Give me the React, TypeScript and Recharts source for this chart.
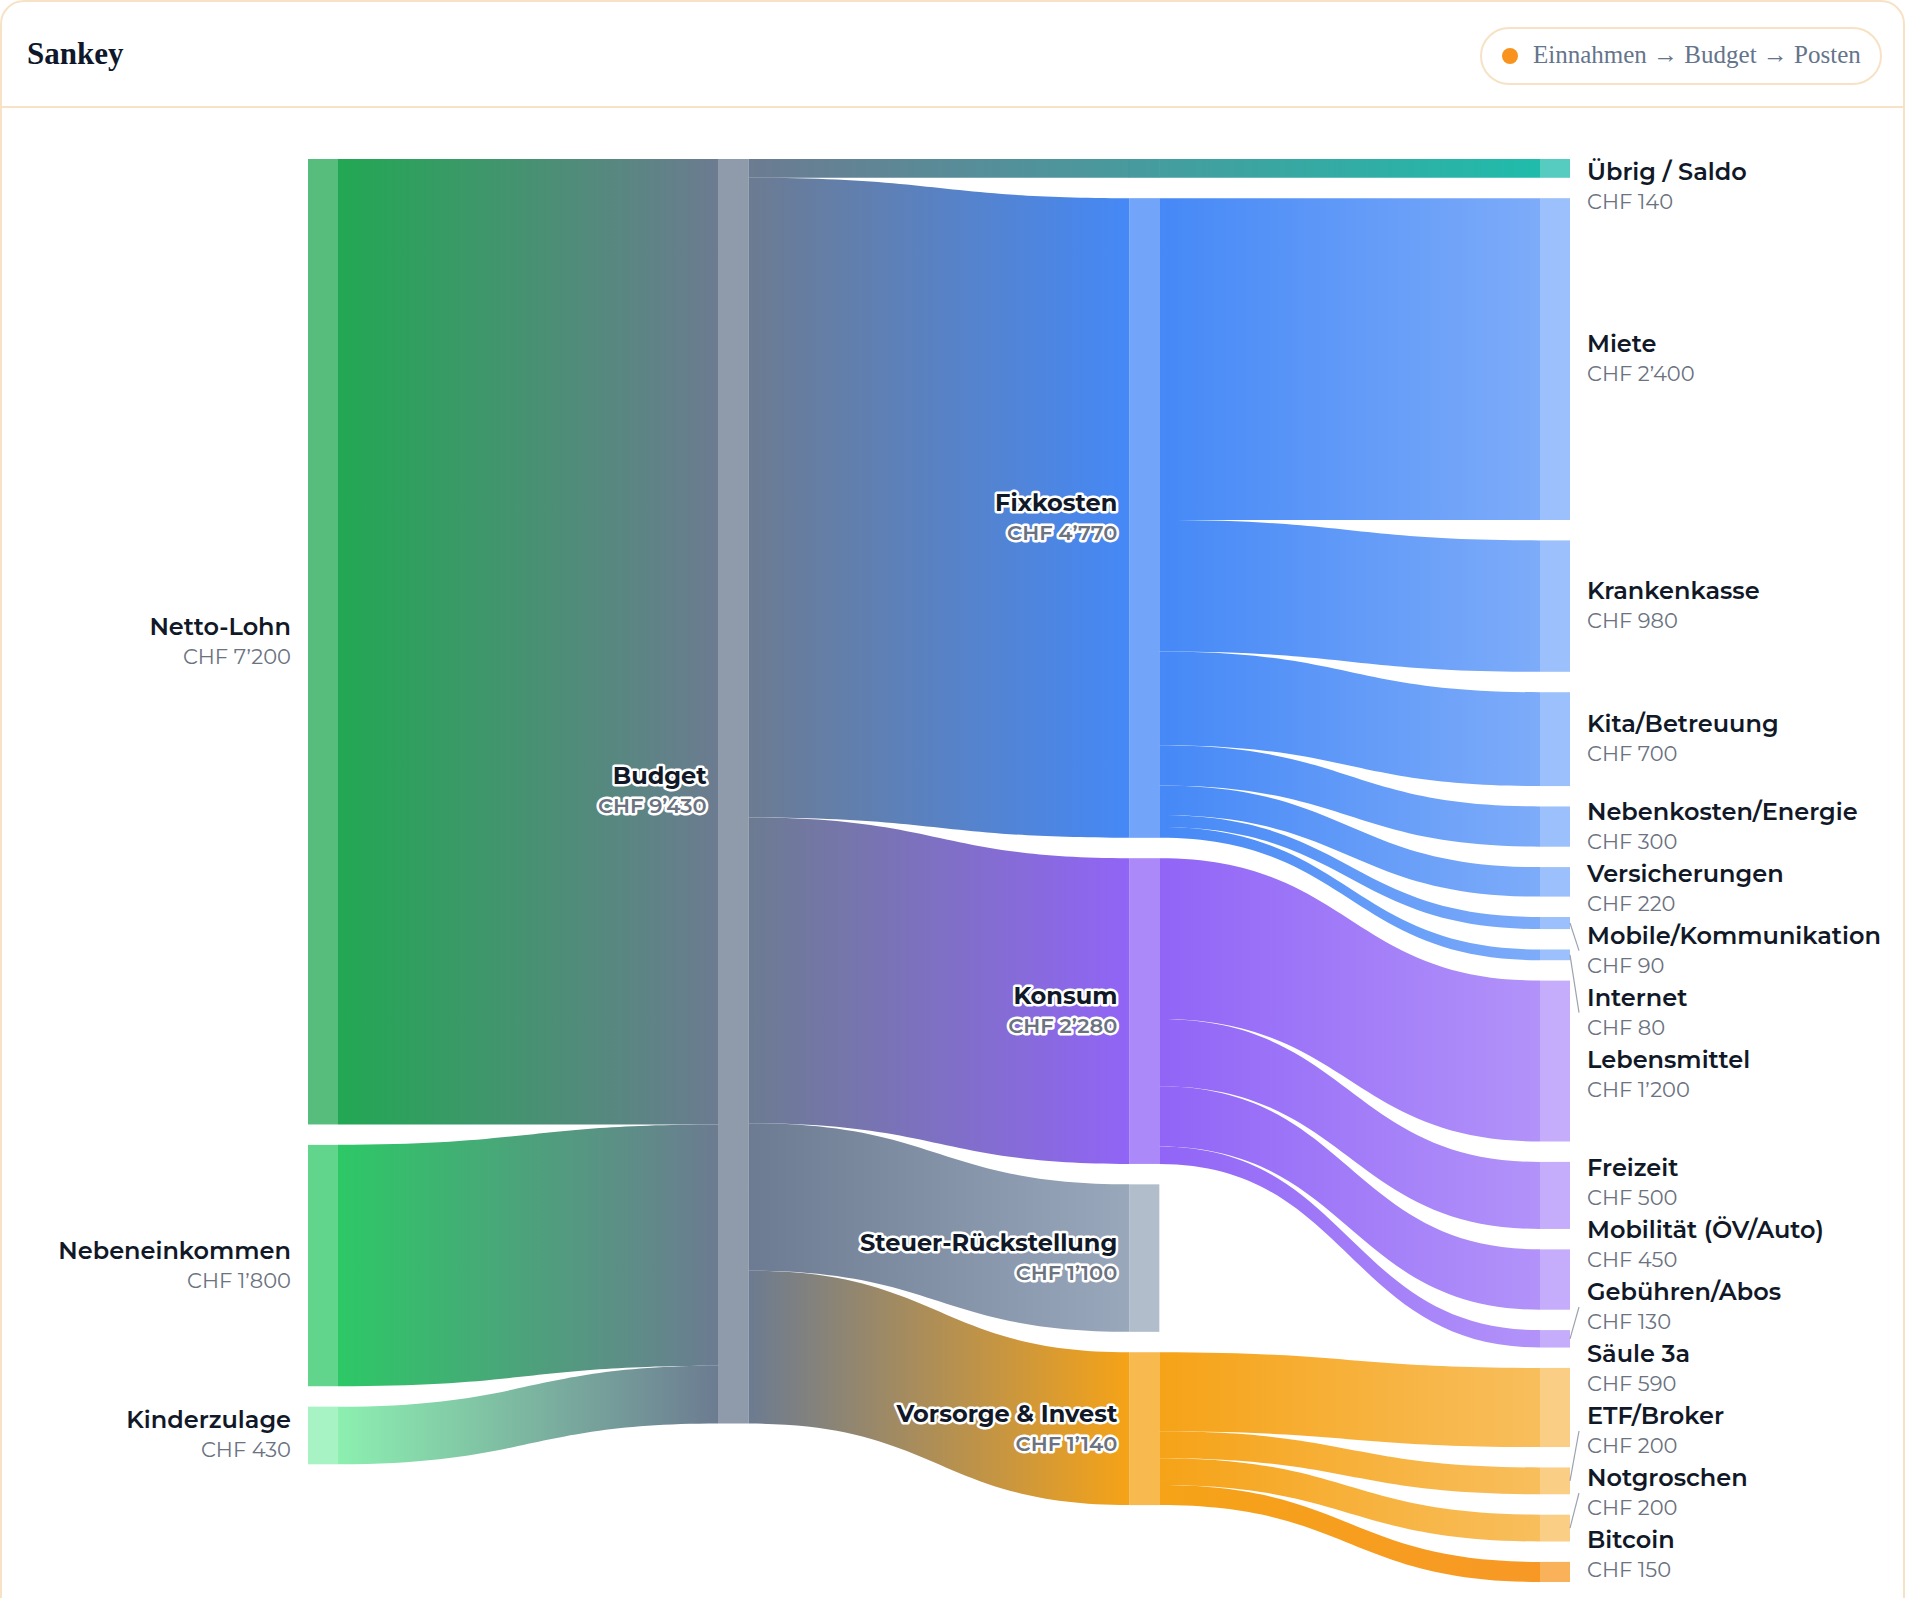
import React from 'react';
import { Sankey } from 'recharts';

// ---- data (CHF per month) ----
const incomeNames = ['Netto-Lohn', 'Nebeneinkommen', 'Kinderzulage'];
const incomeValues = [7200, 1800, 430];

const budgetName = 'Budget';

const saldoName = 'Übrig / Saldo';
const saldoValue = 140;

const fixkostenItems = ['Miete', 'Krankenkasse', 'Kita/Betreuung', 'Nebenkosten/Energie', 'Versicherungen', 'Mobile/Kommunikation', 'Internet'];
const fixkostenValues = [2400, 980, 700, 300, 220, 90, 80];

const konsumItems = ['Lebensmittel', 'Freizeit', 'Mobilität (ÖV/Auto)', 'Gebühren/Abos'];
const konsumValues = [1200, 500, 450, 130];

const steuerName = 'Steuer-Rückstellung';
const steuerValue = 1100;

const vorsorgeItems = ['Säule 3a', 'ETF/Broker', 'Notgroschen', 'Bitcoin'];
const vorsorgeValues = [590, 200, 200, 150];

const groupNames = ['Fixkosten', 'Konsum', steuerName, 'Vorsorge & Invest'];

const sum = (a: number[]) => a.reduce((s, v) => s + v, 0);
const groupValues = [sum(fixkostenValues), sum(konsumValues), steuerValue, sum(vorsorgeValues)];

// pass-through node that keeps the saldo band in the middle column,
// and a near-zero link that keeps the tax node in its own column
const GHOST = 'saldo-pass';
const ANCHOR_VALUE = 0.001;

const nodeNames = [
  ...incomeNames,
  budgetName,
  GHOST,
  ...groupNames,
  saldoName,
  ...fixkostenItems,
  ...konsumItems,
  ...vorsorgeItems,
];
const idx = (n: string) => nodeNames.indexOf(n);

const links = [
  ...incomeNames.map((n, i) => ({ source: idx(n), target: idx(budgetName), value: incomeValues[i] })),
  { source: idx(budgetName), target: idx(GHOST), value: saldoValue },
  ...groupNames.map((g, i) => ({ source: idx(budgetName), target: idx(g), value: groupValues[i] })),
  { source: idx(GHOST), target: idx(saldoName), value: saldoValue },
  ...fixkostenItems.map((n, i) => ({ source: idx('Fixkosten'), target: idx(n), value: fixkostenValues[i] })),
  ...konsumItems.map((n, i) => ({ source: idx('Konsum'), target: idx(n), value: konsumValues[i] })),
  ...vorsorgeItems.map((n, i) => ({ source: idx('Vorsorge & Invest'), target: idx(n), value: vorsorgeValues[i] })),
  { source: idx(steuerName), target: idx('Mobilität (ÖV/Auto)'), value: ANCHOR_VALUE },
];

const sankeyData = { nodes: nodeNames.map((name) => ({ name })), links };

// ---- styles ----
const baseColors: Record<string, string> = {
  'Netto-Lohn': '#16a34a',
  Nebeneinkommen: '#22c55e',
  Kinderzulage: '#86efac',
  Budget: '#64748b',
  Fixkosten: '#3b82f6',
  Konsum: '#8b5cf6',
  'Steuer-Rückstellung': '#94a3b8',
  'Vorsorge & Invest': '#f59e0b',
  'Übrig / Saldo': '#14b8a6',
  Bitcoin: '#f7931a',
};
const colorOf = (name: string) => {
  if (baseColors[name]) return baseColors[name];
  if (fixkostenItems.includes(name)) return '#76a7f9';
  if (konsumItems.includes(name)) return '#ae8df9';
  if (vorsorgeItems.includes(name)) return '#f8bb54';
  return '#94a3b8';
};

const W = 1908;
const H = 1598;
const MARGIN = { top: 159, right: 338, bottom: 16, left: 308 };
const NODE_W = 30;
const NODE_PAD = 20.4;
const COL_STEP = (W - MARGIN.left - MARGIN.right - NODE_W) / 3;
const NODE_OPACITY = 0.72;
const LINK_OPACITY = 0.95;

const FONT = '"Montserrat", "Open Sans", sans-serif';
const LABEL_GAP = 62;
const LABEL_MIN = MARGIN.top + 28;
const LABEL_MAX = H - MARGIN.bottom - 27;
const LAST = nodeNames.length - 1;

const fmt = (v: number) => 'CHF ' + String(Math.round(v)).replace(/\B(?=(\d{3})+(?!\d))/g, '’');

const rightCol = new Map<number, { name: string; value: number; x: number; y: number; h: number }>();

function renderRightLabels() {
  const items = [...rightCol.values()].sort((a, b) => a.y - b.y);
  const centers = items.map((it) => it.y + it.h / 2);
  const pos = centers.slice();
  for (let i = 0; i < pos.length; i++) {
    pos[i] = Math.max(pos[i], i ? pos[i - 1] + LABEL_GAP : LABEL_MIN);
  }
  for (let i = pos.length - 1; i >= 0; i--) {
    pos[i] = Math.min(pos[i], i === pos.length - 1 ? LABEL_MAX : pos[i + 1] - LABEL_GAP);
  }
  return items.map((it, i) => {
    const tx = it.x + NODE_W + 17;
    const shifted = Math.abs(pos[i] - centers[i]) > 20 && it.h < 40;
    return (
      <g key={'rl' + i}>
        {shifted && (
          <line x1={it.x + NODE_W} y1={centers[i]} x2={it.x + NODE_W + 9} y2={pos[i]} stroke="#9ca3af" strokeWidth={1.2} />
        )}
        <text x={tx} y={pos[i] - 7} fontFamily={FONT} fontSize={24} fontWeight={600} fill="#111827">
          {it.name}
        </text>
        <text x={tx} y={pos[i] + 22} fontFamily={FONT} fontSize={21} fill="#6b7280">
          {fmt(it.value)}
        </text>
      </g>
    );
  });
}

function renderNode(props: any) {
  const { x, y, width, height, index, payload } = props;
  const name: string = payload.name;
  const cy = y + height / 2;

  if (name === GHOST) {
    const gid = 'ghost-grad';
    return (
      <g>
        <defs>
          <linearGradient id={gid} gradientUnits="userSpaceOnUse" x1={x - COL_STEP + NODE_W} x2={x + COL_STEP} y1={0} y2={0}>
            <stop offset="0%" stopColor={colorOf(budgetName)} />
            <stop offset="100%" stopColor={colorOf(saldoName)} />
          </linearGradient>
        </defs>
        <rect x={x - 0.5} y={y} width={width + 1} height={height} fill={`url(#${gid})`} fillOpacity={LINK_OPACITY} />
      </g>
    );
  }

  const parts: React.ReactNode[] = [
    <rect key="r" x={x} y={y} width={width} height={height} fill={colorOf(name)} fillOpacity={NODE_OPACITY} />,
  ];

  if (payload.depth === 0) {
    parts.push(
      <text key="n" x={x - 17} y={cy - 7} textAnchor="end" fontFamily={FONT} fontSize={24} fontWeight={600} fill="#111827">
        {name}
      </text>,
      <text key="v" x={x - 17} y={cy + 22} textAnchor="end" fontFamily={FONT} fontSize={21} fill="#6b7280">
        {fmt(payload.value)}
      </text>,
    );
  } else if (payload.depth === 3) {
    rightCol.set(index, { name, value: payload.value, x, y, h: height });
  } else {
    const halo = { stroke: '#ffffff', strokeWidth: 5, strokeLinejoin: 'round' as const, paintOrder: 'stroke' };
    parts.push(
      <text key="n" x={x - 12} y={cy - 7} textAnchor="end" fontFamily={FONT} fontSize={24} fontWeight={700} fill="#111827" {...halo}>
        {name}
      </text>,
      <text key="v" x={x - 12} y={cy + 22} textAnchor="end" fontFamily={FONT} fontSize={21} fontWeight={600} fill="#6b7280" {...halo}>
        {fmt(payload.value)}
      </text>,
    );
  }

  if (index === LAST) parts.push(<g key="right">{renderRightLabels()}</g>);
  return <g>{parts}</g>;
}

function renderLink(props: any) {
  const { sourceX, targetX, sourceY, targetY, sourceControlX, targetControlX, linkWidth, index, payload } = props;
  if (payload.value < 1) return <g />;
  const sName: string = payload.source.name;
  const tName: string = payload.target.name;
  let gx1 = sourceX;
  let gx2 = targetX;
  let c1 = colorOf(sName);
  let c2 = colorOf(tName);
  if (tName === GHOST) {
    gx2 = targetX + COL_STEP;
    c2 = colorOf(saldoName);
  }
  if (sName === GHOST) {
    gx1 = sourceX - COL_STEP;
    c1 = colorOf(budgetName);
  }
  const h = linkWidth / 2;
  const d =
    `M${sourceX},${sourceY - h} C${sourceControlX},${sourceY - h} ${targetControlX},${targetY - h} ${targetX},${targetY - h} ` +
    `L${targetX},${targetY + h} C${targetControlX},${targetY + h} ${sourceControlX},${sourceY + h} ${sourceX},${sourceY + h} Z`;
  const gid = `lg-${index}`;
  return (
    <g>
      <defs>
        <linearGradient id={gid} gradientUnits="userSpaceOnUse" x1={gx1} x2={gx2} y1={0} y2={0}>
          <stop offset="0%" stopColor={c1} />
          <stop offset="100%" stopColor={c2} />
        </linearGradient>
      </defs>
      <path d={d} fill={`url(#${gid})`} fillOpacity={LINK_OPACITY} stroke="none" />
    </g>
  );
}

const BORDER = '#f8e2c6';

export default function App() {
  return (
    <div style={{ position: 'relative', width: W, height: H, overflow: 'hidden', background: '#ffffff' }}>
      <style>{'body{margin:0}'}</style>
      <div
        style={{
          position: 'absolute',
          left: 0,
          top: 0,
          width: 1905,
          height: 1680,
          border: `2px solid ${BORDER}`,
          borderRadius: 24,
          boxSizing: 'border-box',
        }}
      />
      <div style={{ position: 'absolute', left: 2, top: 106, width: 1901, height: 2, background: BORDER }} />
      <div
        style={{
          position: 'absolute',
          left: 27,
          top: 38,
          fontFamily: '"Liberation Serif", serif',
          fontWeight: 700,
          fontSize: 31,
          lineHeight: '31px',
          color: '#0f172a',
        }}
      >
        Sankey
      </div>
      <div
        style={{
          position: 'absolute',
          left: 1480,
          top: 27,
          width: 402,
          height: 58,
          border: `2px solid ${BORDER}`,
          borderRadius: 29,
          boxSizing: 'border-box',
          display: 'flex',
          alignItems: 'center',
          paddingLeft: 20,
          gap: 15,
        }}
      >
        <span style={{ width: 16, height: 16, borderRadius: 8, background: '#f7931e', display: 'inline-block' }} />
        <span
          style={{
            fontFamily: '"Liberation Serif", serif',
            fontSize: 25,
            color: '#64748b',
            lineHeight: '25px',
            position: 'relative',
            top: -2,
          }}
        >
          Einnahmen → Budget → Posten
        </span>
      </div>
      <div style={{ position: 'absolute', left: 0, top: 0 }}>
        <Sankey
          width={W}
          height={H}
          data={sankeyData}
          margin={MARGIN}
          nodeWidth={NODE_W}
          nodePadding={NODE_PAD}
          iterations={0}
          sort={false}
          linkCurvature={0.5}
          node={renderNode}
          link={renderLink}
        />
      </div>
    </div>
  );
}
